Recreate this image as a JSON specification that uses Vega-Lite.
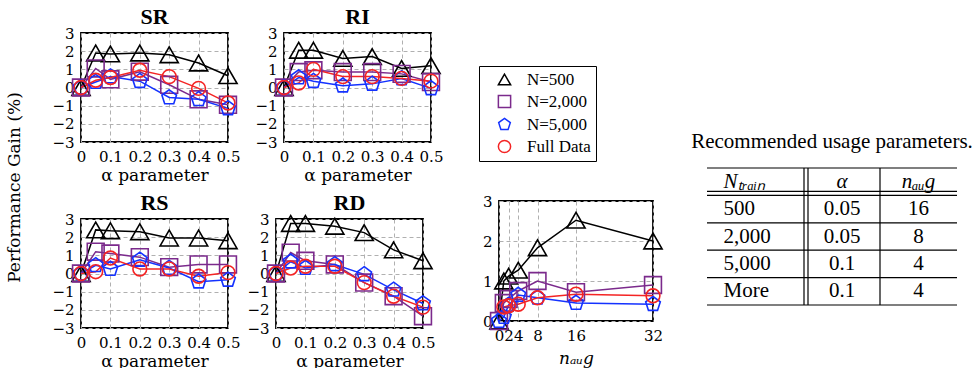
{
"$schema":"https://vega.github.io/schema/vega-lite/v6.json",
"background":"#ffffff",
"padding":5,
"datasets":{
"alpha":[
{"panel":"SR","series":"N=500","alpha":0,"gain":0},{"panel":"SR","series":"N=500","alpha":0.05,"gain":1.9},{"panel":"SR","series":"N=500","alpha":0.1,"gain":1.85},{"panel":"SR","series":"N=500","alpha":0.2,"gain":1.9},{"panel":"SR","series":"N=500","alpha":0.3,"gain":1.8},{"panel":"SR","series":"N=500","alpha":0.4,"gain":1.35},{"panel":"SR","series":"N=500","alpha":0.5,"gain":0.65},
{"panel":"SR","series":"N=2,000","alpha":0,"gain":0},{"panel":"SR","series":"N=2,000","alpha":0.05,"gain":1.05},{"panel":"SR","series":"N=2,000","alpha":0.1,"gain":0.45},{"panel":"SR","series":"N=2,000","alpha":0.2,"gain":0.87},{"panel":"SR","series":"N=2,000","alpha":0.3,"gain":0.15},{"panel":"SR","series":"N=2,000","alpha":0.4,"gain":-0.65},{"panel":"SR","series":"N=2,000","alpha":0.5,"gain":-0.95},
{"panel":"SR","series":"N=5,000","alpha":0,"gain":0},{"panel":"SR","series":"N=5,000","alpha":0.05,"gain":0.3},{"panel":"SR","series":"N=5,000","alpha":0.1,"gain":0.6},{"panel":"SR","series":"N=5,000","alpha":0.2,"gain":0.35},{"panel":"SR","series":"N=5,000","alpha":0.3,"gain":-0.55},{"panel":"SR","series":"N=5,000","alpha":0.4,"gain":-0.65},{"panel":"SR","series":"N=5,000","alpha":0.5,"gain":-1.15},
{"panel":"SR","series":"Full Data","alpha":0,"gain":0},{"panel":"SR","series":"Full Data","alpha":0.05,"gain":0.4},{"panel":"SR","series":"Full Data","alpha":0.1,"gain":0.55},{"panel":"SR","series":"Full Data","alpha":0.2,"gain":0.95},{"panel":"SR","series":"Full Data","alpha":0.3,"gain":0.6},{"panel":"SR","series":"Full Data","alpha":0.4,"gain":-0.05},{"panel":"SR","series":"Full Data","alpha":0.5,"gain":-0.85},
{"panel":"RI","series":"N=500","alpha":0,"gain":0},{"panel":"RI","series":"N=500","alpha":0.05,"gain":2.05},{"panel":"RI","series":"N=500","alpha":0.1,"gain":2.05},{"panel":"RI","series":"N=500","alpha":0.2,"gain":1.6},{"panel":"RI","series":"N=500","alpha":0.3,"gain":1.7},{"panel":"RI","series":"N=500","alpha":0.4,"gain":1.05},{"panel":"RI","series":"N=500","alpha":0.5,"gain":1.2},
{"panel":"RI","series":"N=2,000","alpha":0,"gain":0},{"panel":"RI","series":"N=2,000","alpha":0.05,"gain":0.85},{"panel":"RI","series":"N=2,000","alpha":0.1,"gain":0.95},{"panel":"RI","series":"N=2,000","alpha":0.2,"gain":0.85},{"panel":"RI","series":"N=2,000","alpha":0.3,"gain":0.85},{"panel":"RI","series":"N=2,000","alpha":0.4,"gain":0.75},{"panel":"RI","series":"N=2,000","alpha":0.5,"gain":0.3},
{"panel":"RI","series":"N=5,000","alpha":0,"gain":0},{"panel":"RI","series":"N=5,000","alpha":0.05,"gain":0.55},{"panel":"RI","series":"N=5,000","alpha":0.1,"gain":0.35},{"panel":"RI","series":"N=5,000","alpha":0.2,"gain":0.1},{"panel":"RI","series":"N=5,000","alpha":0.3,"gain":0.2},{"panel":"RI","series":"N=5,000","alpha":0.4,"gain":0.5},{"panel":"RI","series":"N=5,000","alpha":0.5,"gain":-0.05},
{"panel":"RI","series":"Full Data","alpha":0,"gain":0},{"panel":"RI","series":"Full Data","alpha":0.05,"gain":0.25},{"panel":"RI","series":"Full Data","alpha":0.1,"gain":1.0},{"panel":"RI","series":"Full Data","alpha":0.2,"gain":0.6},{"panel":"RI","series":"Full Data","alpha":0.3,"gain":0.6},{"panel":"RI","series":"Full Data","alpha":0.4,"gain":0.5},{"panel":"RI","series":"Full Data","alpha":0.5,"gain":0.35},
{"panel":"RS","series":"N=500","alpha":0,"gain":0},{"panel":"RS","series":"N=500","alpha":0.05,"gain":2.4},{"panel":"RS","series":"N=500","alpha":0.1,"gain":2.35},{"panel":"RS","series":"N=500","alpha":0.2,"gain":2.3},{"panel":"RS","series":"N=500","alpha":0.3,"gain":1.95},{"panel":"RS","series":"N=500","alpha":0.4,"gain":1.95},{"panel":"RS","series":"N=500","alpha":0.5,"gain":1.8},
{"panel":"RS","series":"N=2,000","alpha":0,"gain":0},{"panel":"RS","series":"N=2,000","alpha":0.05,"gain":1.2},{"panel":"RS","series":"N=2,000","alpha":0.1,"gain":1.1},{"panel":"RS","series":"N=2,000","alpha":0.2,"gain":0.9},{"panel":"RS","series":"N=2,000","alpha":0.3,"gain":0.35},{"panel":"RS","series":"N=2,000","alpha":0.4,"gain":0.5},{"panel":"RS","series":"N=2,000","alpha":0.5,"gain":0.5},
{"panel":"RS","series":"N=5,000","alpha":0,"gain":0},{"panel":"RS","series":"N=5,000","alpha":0.05,"gain":0.45},{"panel":"RS","series":"N=5,000","alpha":0.1,"gain":0.25},{"panel":"RS","series":"N=5,000","alpha":0.2,"gain":0.75},{"panel":"RS","series":"N=5,000","alpha":0.3,"gain":0.3},{"panel":"RS","series":"N=5,000","alpha":0.4,"gain":-0.45},{"panel":"RS","series":"N=5,000","alpha":0.5,"gain":-0.35},
{"panel":"RS","series":"Full Data","alpha":0,"gain":0},{"panel":"RS","series":"Full Data","alpha":0.05,"gain":0.1},{"panel":"RS","series":"Full Data","alpha":0.1,"gain":0.85},{"panel":"RS","series":"Full Data","alpha":0.2,"gain":0.25},{"panel":"RS","series":"Full Data","alpha":0.3,"gain":0.25},{"panel":"RS","series":"Full Data","alpha":0.4,"gain":-0.15},{"panel":"RS","series":"Full Data","alpha":0.5,"gain":0.05},
{"panel":"RD","series":"N=500","alpha":0,"gain":0},{"panel":"RD","series":"N=500","alpha":0.05,"gain":2.75},{"panel":"RD","series":"N=500","alpha":0.1,"gain":2.75},{"panel":"RD","series":"N=500","alpha":0.2,"gain":2.6},{"panel":"RD","series":"N=500","alpha":0.3,"gain":2.25},{"panel":"RD","series":"N=500","alpha":0.4,"gain":1.3},{"panel":"RD","series":"N=500","alpha":0.5,"gain":0.7},
{"panel":"RD","series":"N=2,000","alpha":0,"gain":0},{"panel":"RD","series":"N=2,000","alpha":0.05,"gain":1.15},{"panel":"RD","series":"N=2,000","alpha":0.1,"gain":0.7},{"panel":"RD","series":"N=2,000","alpha":0.2,"gain":0.5},{"panel":"RD","series":"N=2,000","alpha":0.3,"gain":-0.5},{"panel":"RD","series":"N=2,000","alpha":0.4,"gain":-1.25},{"panel":"RD","series":"N=2,000","alpha":0.5,"gain":-2.35},
{"panel":"RD","series":"N=5,000","alpha":0,"gain":0},{"panel":"RD","series":"N=5,000","alpha":0.05,"gain":0.65},{"panel":"RD","series":"N=5,000","alpha":0.1,"gain":0.3},{"panel":"RD","series":"N=5,000","alpha":0.2,"gain":0.5},{"panel":"RD","series":"N=5,000","alpha":0.3,"gain":-0.05},{"panel":"RD","series":"N=5,000","alpha":0.4,"gain":-0.9},{"panel":"RD","series":"N=5,000","alpha":0.5,"gain":-1.65},
{"panel":"RD","series":"Full Data","alpha":0,"gain":0},{"panel":"RD","series":"Full Data","alpha":0.05,"gain":0.3},{"panel":"RD","series":"Full Data","alpha":0.1,"gain":0.4},{"panel":"RD","series":"Full Data","alpha":0.2,"gain":0.4},{"panel":"RD","series":"Full Data","alpha":0.3,"gain":-0.5},{"panel":"RD","series":"Full Data","alpha":0.4,"gain":-1.25},{"panel":"RD","series":"Full Data","alpha":0.5,"gain":-1.85}
],
"naug":[
{"series":"N=500","n":0,"gain":0},{"series":"N=500","n":1,"gain":1.0},{"series":"N=500","n":2,"gain":1.12},{"series":"N=500","n":4,"gain":1.27},{"series":"N=500","n":8,"gain":1.83},{"series":"N=500","n":16,"gain":2.52},{"series":"N=500","n":32,"gain":2.0},
{"series":"N=2,000","n":0,"gain":0},{"series":"N=2,000","n":1,"gain":0.45},{"series":"N=2,000","n":2,"gain":0.55},{"series":"N=2,000","n":4,"gain":0.75},{"series":"N=2,000","n":8,"gain":1.0},{"series":"N=2,000","n":16,"gain":0.72},{"series":"N=2,000","n":32,"gain":0.9},
{"series":"N=5,000","n":0,"gain":0},{"series":"N=5,000","n":1,"gain":0.1},{"series":"N=5,000","n":2,"gain":0.4},{"series":"N=5,000","n":4,"gain":0.65},{"series":"N=5,000","n":8,"gain":0.58},{"series":"N=5,000","n":16,"gain":0.45},{"series":"N=5,000","n":32,"gain":0.42},
{"series":"Full Data","n":1,"gain":0.35},{"series":"Full Data","n":2,"gain":0.38},{"series":"Full Data","n":4,"gain":0.42},{"series":"Full Data","n":8,"gain":0.58},{"series":"Full Data","n":16,"gain":0.67},{"series":"Full Data","n":32,"gain":0.63}
],
"table":[
{"row":"h","A":"Nₜᵣₐᵢₙ","B":"α","C":"nₐᵤg"},
{"row":"500","A":"500","B":"0.05","C":"16"},
{"row":"2,000","A":"2,000","B":"0.05","C":"8"},
{"row":"5,000","A":"5,000","B":"0.1","C":"4"},
{"row":"More","A":"More","B":"0.1","C":"4"}
],
"caption":[{"row":"cap","text":"Recommended usage parameters."}]
},
"resolve":{"legend":{"color":"independent","shape":"independent","size":"independent"}},
"spacing":33,
"hconcat":[
{
"title":{"text":"Performance Gain (%)","orient":"left","anchor":"middle","frame":"bounds","font":"DejaVu Serif","fontSize":17,"fontWeight":"normal","offset":27},
"spacing":7,
"resolve":{"legend":{"color":"independent","shape":"independent","size":"independent"}},
"vconcat":[
{"spacing":11,"resolve":{"legend":{"color":"independent","shape":"independent","size":"independent"}},"hconcat":[
{"title":"SR","width":147,"height":109,"data":{"name":"alpha"},"transform":[{"filter":"datum.panel === 'SR'"}],
"encoding":{"x":{"field":"alpha","type":"quantitative","scale":{"domain":[0,0.5]},"axis":{"values":[0,0.1,0.2,0.3,0.4,0.5],"format":"~g","title":"α parameter"}},
"y":{"field":"gain","type":"quantitative","scale":{"domain":[-3,3]},"axis":{"values":[-3,-2,-1,0,1,2,3],"format":"d","title":null}},
"color":{"field":"series","type":"nominal","legend":null,"scale":{"domain":["N=500","N=2,000","N=5,000","Full Data"],"range":["#000000","#7b2a8c","#1432ff","#f42424"]}}},
"layer":[{"mark":{"type":"line","strokeWidth":1.5},"encoding":{}},
{"mark":{"type":"point","filled":false,"strokeWidth":1.6,"opacity":1},"encoding":{"shape":{"field":"series","type":"nominal","legend":null,"scale":{"domain":["N=500","N=2,000","N=5,000","Full Data"],"range":["triangle-up","square","M0,-1L0.951,-0.309L0.588,0.809L-0.588,0.809L-0.951,-0.309Z","circle"]}},"size":{"field":"series","type":"nominal","legend":null,"scale":{"domain":["N=500","N=2,000","N=5,000","Full Data"],"range":[330,190,210,180]}}}}]},
{"title":"RI","width":147,"height":109,"data":{"name":"alpha"},"transform":[{"filter":"datum.panel === 'RI'"}],
"encoding":{"x":{"field":"alpha","type":"quantitative","scale":{"domain":[0,0.5]},"axis":{"values":[0,0.1,0.2,0.3,0.4,0.5],"format":"~g","title":"α parameter"}},
"y":{"field":"gain","type":"quantitative","scale":{"domain":[-3,3]},"axis":{"values":[-3,-2,-1,0,1,2,3],"format":"d","title":null}},
"color":{"field":"series","type":"nominal","legend":null,"scale":{"domain":["N=500","N=2,000","N=5,000","Full Data"],"range":["#000000","#7b2a8c","#1432ff","#f42424"]}}},
"layer":[{"mark":{"type":"line","strokeWidth":1.5},"encoding":{}},
{"mark":{"type":"point","filled":false,"strokeWidth":1.6,"opacity":1},"encoding":{"shape":{"field":"series","type":"nominal","legend":null,"scale":{"domain":["N=500","N=2,000","N=5,000","Full Data"],"range":["triangle-up","square","M0,-1L0.951,-0.309L0.588,0.809L-0.588,0.809L-0.951,-0.309Z","circle"]}},"size":{"field":"series","type":"nominal","legend":null,"scale":{"domain":["N=500","N=2,000","N=5,000","Full Data"],"range":[330,190,210,180]}}}}]}
]},
{"spacing":3,"resolve":{"legend":{"color":"independent","shape":"independent","size":"independent"}},"hconcat":[
{"title":"RS","width":147,"height":109,"data":{"name":"alpha"},"transform":[{"filter":"datum.panel === 'RS'"}],
"encoding":{"x":{"field":"alpha","type":"quantitative","scale":{"domain":[0,0.5]},"axis":{"values":[0,0.1,0.2,0.3,0.4,0.5],"format":"~g","title":"α parameter"}},
"y":{"field":"gain","type":"quantitative","scale":{"domain":[-3,3]},"axis":{"values":[-3,-2,-1,0,1,2,3],"format":"d","title":null}},
"color":{"field":"series","type":"nominal","legend":null,"scale":{"domain":["N=500","N=2,000","N=5,000","Full Data"],"range":["#000000","#7b2a8c","#1432ff","#f42424"]}}},
"layer":[{"mark":{"type":"line","strokeWidth":1.5},"encoding":{}},
{"mark":{"type":"point","filled":false,"strokeWidth":1.6,"opacity":1},"encoding":{"shape":{"field":"series","type":"nominal","legend":null,"scale":{"domain":["N=500","N=2,000","N=5,000","Full Data"],"range":["triangle-up","square","M0,-1L0.951,-0.309L0.588,0.809L-0.588,0.809L-0.951,-0.309Z","circle"]}},"size":{"field":"series","type":"nominal","legend":null,"scale":{"domain":["N=500","N=2,000","N=5,000","Full Data"],"range":[330,190,210,180]}}}}]},
{"title":"RD","width":147,"height":109,"data":{"name":"alpha"},"transform":[{"filter":"datum.panel === 'RD'"}],
"encoding":{"x":{"field":"alpha","type":"quantitative","scale":{"domain":[0,0.5]},"axis":{"values":[0,0.1,0.2,0.3,0.4,0.5],"format":"~g","title":"α parameter"}},
"y":{"field":"gain","type":"quantitative","scale":{"domain":[-3,3]},"axis":{"values":[-3,-2,-1,0,1,2,3],"format":"d","title":null}},
"color":{"field":"series","type":"nominal","legend":null,"scale":{"domain":["N=500","N=2,000","N=5,000","Full Data"],"range":["#000000","#7b2a8c","#1432ff","#f42424"]}}},
"layer":[{"mark":{"type":"line","strokeWidth":1.5},"encoding":{}},
{"mark":{"type":"point","filled":false,"strokeWidth":1.6,"opacity":1},"encoding":{"shape":{"field":"series","type":"nominal","legend":null,"scale":{"domain":["N=500","N=2,000","N=5,000","Full Data"],"range":["triangle-up","square","M0,-1L0.951,-0.309L0.588,0.809L-0.588,0.809L-0.951,-0.309Z","circle"]}},"size":{"field":"series","type":"nominal","legend":null,"scale":{"domain":["N=500","N=2,000","N=5,000","Full Data"],"range":[330,190,210,180]}}}}]}
]}
]
},
{"spacing":24,"resolve":{"legend":{"color":"independent","shape":"independent","size":"independent"}},"hconcat":[
{"spacing":31,"resolve":{"legend":{"color":"independent","shape":"independent","size":"independent"}},"vconcat":[
{"width":100,"height":40,"view":{"stroke":null},"data":{"name":"naug"},"transform":[{"filter":"false"}],"mark":{"type":"point","filled":false,"strokeWidth":1.6,"opacity":1},
"encoding":{"color":{"field":"series","type":"nominal","title":null,"legend":{"orient":"none","legendX":-20,"legendY":33},"scale":{"domain":["N=500","N=2,000","N=5,000","Full Data"],"range":["#000000","#7b2a8c","#1432ff","#f42424"]}},
"shape":{"field":"series","type":"nominal","title":null,"legend":{"orient":"none","legendX":-20,"legendY":33},"scale":{"domain":["N=500","N=2,000","N=5,000","Full Data"],"range":["triangle-up","square","M0,-1L0.951,-0.309L0.588,0.809L-0.588,0.809L-0.951,-0.309Z","circle"]}}}},
{"width":154,"height":120,"data":{"name":"naug"},
"encoding":{"x":{"field":"n","type":"quantitative","scale":{"domain":[0,32]},"axis":{"values":[0,2,4,8,16,32],"format":"d","title":"nₐᵤg","titleFontStyle":"italic","titlePadding":7}},
"y":{"field":"gain","type":"quantitative","scale":{"domain":[0,3]},"axis":{"values":[0,1,2,3],"format":"d","title":null}},
"color":{"field":"series","type":"nominal","legend":null,"scale":{"domain":["N=500","N=2,000","N=5,000","Full Data"],"range":["#000000","#7b2a8c","#1432ff","#f42424"]}}},
"layer":[{"mark":{"type":"line","strokeWidth":1.5},"encoding":{}},
{"mark":{"type":"point","filled":false,"strokeWidth":1.6,"opacity":1},"encoding":{"shape":{"field":"series","type":"nominal","legend":null,"scale":{"domain":["N=500","N=2,000","N=5,000","Full Data"],"range":["triangle-up","square","M0,-1L0.951,-0.309L0.588,0.809L-0.588,0.809L-0.951,-0.309Z","circle"]}},"size":{"field":"series","type":"nominal","legend":null,"scale":{"domain":["N=500","N=2,000","N=5,000","Full Data"],"range":[330,190,210,180]}}}}]}
]},
{"spacing":3,"vconcat":[
{"width":250,"height":131,"view":{"stroke":null},"data":{"name":"caption"},"mark":{"type":"text","fontSize":21,"color":"#000"},
"encoding":{"y":{"field":"row","type":"nominal","scale":{"type":"band","domain":["cap"],"paddingInner":0,"paddingOuter":1,"align":1},"axis":null},"text":{"field":"text"}}},
{"spacing":0,"bounds":"flush","hconcat":[
{"width":97,"height":137,"view":{"stroke":null},"data":{"name":"table"},
"layer":[
{"transform":[{"filter":"datum.row !== 'h'"}],"mark":{"type":"text","align":"left","dx":-32,"fontSize":21,"color":"#000"},"encoding":{"y":{"field":"row","type":"nominal","scale":{"type":"band","domain":["h","500","2,000","5,000","More"],"paddingInner":0,"paddingOuter":0},"axis":null},"text":{"field":"A"}}},
{"transform":[{"filter":"datum.row === 'h'"}],"mark":{"type":"text","align":"left","dx":-32,"fontSize":21,"fontStyle":"italic","color":"#000"},"encoding":{"y":{"field":"row","type":"nominal","scale":{"type":"band","domain":["h","500","2,000","5,000","More"],"paddingInner":0,"paddingOuter":0},"axis":null},"text":{"field":"A"}}},
{"mark":{"type":"rule","color":"#000","strokeWidth":1.2},"encoding":{"y":{"field":"row","type":"nominal","bandPosition":0,"scale":{"type":"band","domain":["h","500","2,000","5,000","More"],"paddingInner":0,"paddingOuter":0},"axis":null}}},
{"transform":[{"filter":"datum.row === 'More'"}],"mark":{"type":"rule","color":"#000","strokeWidth":1.2},"encoding":{"y":{"field":"row","type":"nominal","bandPosition":1,"scale":{"type":"band","domain":["h","500","2,000","5,000","More"],"paddingInner":0,"paddingOuter":0},"axis":null}}},
{"transform":[{"filter":"datum.row === '500'"}],"mark":{"type":"rule","color":"#000","strokeWidth":1.2,"yOffset":-4},"encoding":{"y":{"field":"row","type":"nominal","bandPosition":0,"scale":{"type":"band","domain":["h","500","2,000","5,000","More"],"paddingInner":0,"paddingOuter":0},"axis":null}}}
]},
{"width":76,"height":137,"view":{"stroke":null},"data":{"name":"table"},
"layer":[
{"transform":[{"filter":"datum.row !== 'h'"}],"mark":{"type":"text","fontSize":21,"color":"#000"},"encoding":{"y":{"field":"row","type":"nominal","scale":{"type":"band","domain":["h","500","2,000","5,000","More"],"paddingInner":0,"paddingOuter":0},"axis":null},"text":{"field":"B"}}},
{"transform":[{"filter":"datum.row === 'h'"}],"mark":{"type":"text","fontSize":21,"fontStyle":"italic","color":"#000"},"encoding":{"y":{"field":"row","type":"nominal","scale":{"type":"band","domain":["h","500","2,000","5,000","More"],"paddingInner":0,"paddingOuter":0},"axis":null},"text":{"field":"B"}}},
{"mark":{"type":"rule","color":"#000","strokeWidth":1.2},"encoding":{"y":{"field":"row","type":"nominal","bandPosition":0,"scale":{"type":"band","domain":["h","500","2,000","5,000","More"],"paddingInner":0,"paddingOuter":0},"axis":null}}},
{"transform":[{"filter":"datum.row === 'More'"}],"mark":{"type":"rule","color":"#000","strokeWidth":1.2},"encoding":{"y":{"field":"row","type":"nominal","bandPosition":1,"scale":{"type":"band","domain":["h","500","2,000","5,000","More"],"paddingInner":0,"paddingOuter":0},"axis":null}}},
{"transform":[{"filter":"datum.row === '500'"}],"mark":{"type":"rule","color":"#000","strokeWidth":1.2,"yOffset":-4},"encoding":{"y":{"field":"row","type":"nominal","bandPosition":0,"scale":{"type":"band","domain":["h","500","2,000","5,000","More"],"paddingInner":0,"paddingOuter":0},"axis":null}}},
{"transform":[{"filter":"datum.row === 'h'"}],"mark":{"type":"rule","color":"#000","strokeWidth":1.2},"encoding":{"x":{"datum":0,"type":"quantitative","scale":{"domain":[0,1]},"axis":null}}},
{"transform":[{"filter":"datum.row === 'h'"}],"mark":{"type":"rule","color":"#000","strokeWidth":1.2,"xOffset":4},"encoding":{"x":{"datum":0,"type":"quantitative","scale":{"domain":[0,1]},"axis":null}}}
]},
{"width":77,"height":137,"view":{"stroke":null},"data":{"name":"table"},
"layer":[
{"transform":[{"filter":"datum.row !== 'h'"}],"mark":{"type":"text","fontSize":21,"color":"#000"},"encoding":{"y":{"field":"row","type":"nominal","scale":{"type":"band","domain":["h","500","2,000","5,000","More"],"paddingInner":0,"paddingOuter":0},"axis":null},"text":{"field":"C"}}},
{"transform":[{"filter":"datum.row === 'h'"}],"mark":{"type":"text","fontSize":21,"fontStyle":"italic","color":"#000"},"encoding":{"y":{"field":"row","type":"nominal","scale":{"type":"band","domain":["h","500","2,000","5,000","More"],"paddingInner":0,"paddingOuter":0},"axis":null},"text":{"field":"C"}}},
{"mark":{"type":"rule","color":"#000","strokeWidth":1.2},"encoding":{"y":{"field":"row","type":"nominal","bandPosition":0,"scale":{"type":"band","domain":["h","500","2,000","5,000","More"],"paddingInner":0,"paddingOuter":0},"axis":null}}},
{"transform":[{"filter":"datum.row === 'More'"}],"mark":{"type":"rule","color":"#000","strokeWidth":1.2},"encoding":{"y":{"field":"row","type":"nominal","bandPosition":1,"scale":{"type":"band","domain":["h","500","2,000","5,000","More"],"paddingInner":0,"paddingOuter":0},"axis":null}}},
{"transform":[{"filter":"datum.row === '500'"}],"mark":{"type":"rule","color":"#000","strokeWidth":1.2,"yOffset":-4},"encoding":{"y":{"field":"row","type":"nominal","bandPosition":0,"scale":{"type":"band","domain":["h","500","2,000","5,000","More"],"paddingInner":0,"paddingOuter":0},"axis":null}}},
{"transform":[{"filter":"datum.row === 'h'"}],"mark":{"type":"rule","color":"#000","strokeWidth":1.2},"encoding":{"x":{"datum":0,"type":"quantitative","scale":{"domain":[0,1]},"axis":null}}}
]}
]}
]}
]}
],
"config":{
"font":"Liberation Serif",
"view":{"stroke":"#000000","strokeWidth":1.8},
"axis":{"labelFont":"DejaVu Serif","labelFontSize":15,"labelColor":"#000","titleFont":"DejaVu Serif","titleFontSize":17,"titleFontWeight":"normal","titleColor":"#000","grid":true,"gridColor":"#b0b0b0","gridDash":[4,3],"gridWidth":1,"domain":false,"ticks":false,"labelFlush":false,"labelOverlap":false},
"axisX":{"labelPadding":7,"titlePadding":3},
"axisY":{"labelPadding":7},
"title":{"font":"Liberation Serif","fontSize":22,"fontWeight":"bold","color":"#000","offset":-3,"frame":"group"},
"legend":{"strokeColor":"#000","fillColor":"#fff","padding":5,"labelFont":"Liberation Serif","labelFontSize":17,"labelColor":"#000","symbolStrokeWidth":1.5,"symbolSize":150,"rowPadding":4,"symbolOffset":12,"labelOffset":14}
}
}
